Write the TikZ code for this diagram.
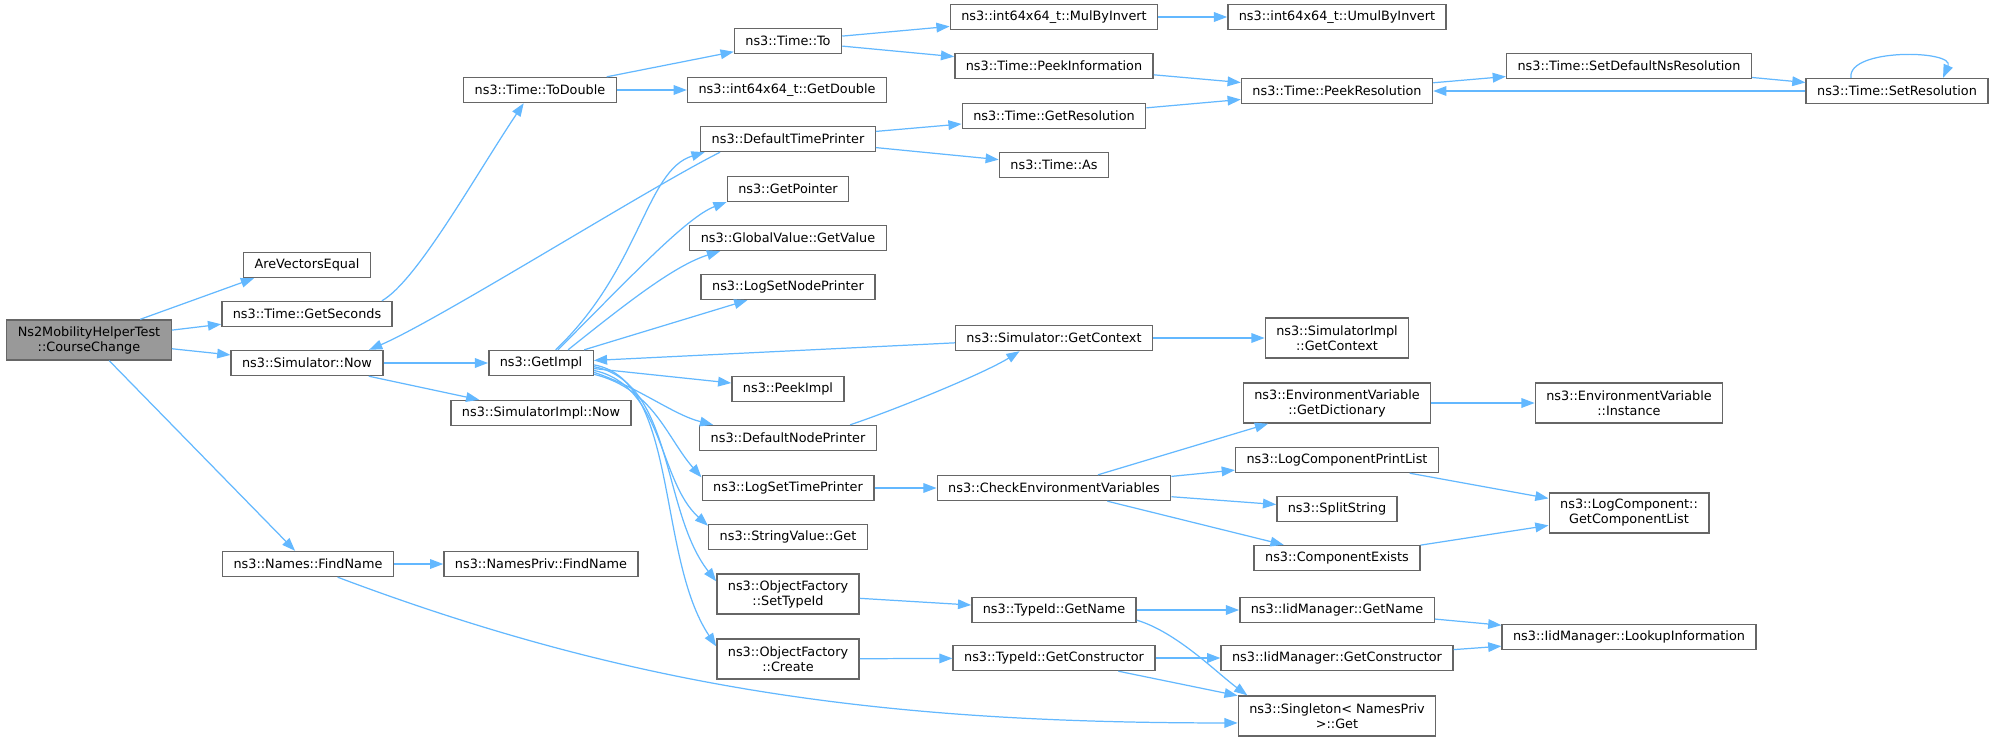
\documentclass[tikz,border=0pt]{standalone}
\usepackage{fontspec}
\setmainfont{DejaVu Sans}
\usetikzlibrary{arrows.meta}
\definecolor{edgeblue}{HTML}{63B8FF}
\definecolor{boxgray}{HTML}{666666}
\definecolor{rootgray}{HTML}{999999}

\begin{document}
\begin{tikzpicture}[x=0.02cm, y=-0.02cm,
    fn/.style={draw=boxgray, line width=0.8pt, rectangle, fill=white, align=center,
        inner xsep=6.25pt, minimum height=0.5cm, font=\fontsize{7.3}{8.5}\selectfont},
    fntwo/.style={fn, minimum height=0.8cm},
    edge/.style={draw=edgeblue, line width=0.7pt, -{Triangle[length=7.5pt, width=5.5pt]}}]
    \useasboundingbox (0,0) rectangle (1995,741);

    \node [fntwo, fill=rootgray] (CC) at (89,340) {Ns2MobilityHelperTest\\::CourseChange};

    \node [fn] (AVE) at (307,265) {AreVectorsEqual};
    \node [fn] (GS) at (307,314) {ns3::Time::GetSeconds};
    \node [fn] (SN) at (307,363) {ns3::Simulator::Now};
    \node [fn] (NFN) at (308,564) {ns3::Names::FindName};

    \node [fn] (TD) at (540,90) {ns3::Time::ToDouble};
    \node [fn] (GI) at (541,363) {ns3::GetImpl};
    \node [fn] (SIN) at (541,413) {ns3::SimulatorImpl::Now};
    \node [fn] (NPF) at (541,564) {ns3::NamesPriv::FindName};

    \node [fn] (TO) at (788,41) {ns3::Time::To};
    \node [fn] (GD) at (787,90) {ns3::int64x64\_t::GetDouble};
    \node [fn] (DTP) at (788,139) {ns3::DefaultTimePrinter};
    \node [fn] (GP) at (788,189) {ns3::GetPointer};
    \node [fn] (GV) at (788,238) {ns3::GlobalValue::GetValue};
    \node [fn] (LNP) at (788,287) {ns3::LogSetNodePrinter};
    \node [fn] (PI) at (788,389) {ns3::PeekImpl};
    \node [fn] (DNP) at (788,438) {ns3::DefaultNodePrinter};
    \node [fn] (LTP) at (788,488) {ns3::LogSetTimePrinter};
    \node [fn] (SVG) at (788,537) {ns3::StringValue::Get};
    \node [fntwo] (OST) at (788,594) {ns3::ObjectFactory\\::SetTypeId};
    \node [fntwo] (OC) at (788,659) {ns3::ObjectFactory\\::Create};

    \node [fn] (MBI) at (1054,17) {ns3::int64x64\_t::MulByInvert};
    \node [fn] (PIN) at (1054,66) {ns3::Time::PeekInformation};
    \node [fn] (GR) at (1054,116) {ns3::Time::GetResolution};
    \node [fn] (AS) at (1054,165) {ns3::Time::As};
    \node [fn] (SGC) at (1054,338) {ns3::Simulator::GetContext};
    \node [fn] (CEV) at (1054,488) {ns3::CheckEnvironmentVariables};
    \node [fn] (TGN) at (1054,610) {ns3::TypeId::GetName};
    \node [fn] (TGC) at (1054,658) {ns3::TypeId::GetConstructor};

    \node [fn] (UBI) at (1337,17) {ns3::int64x64\_t::UmulByInvert};
    \node [fn] (PR) at (1337,91) {ns3::Time::PeekResolution};
    \node [fntwo] (SIGC) at (1337,338) {ns3::SimulatorImpl\\::GetContext};
    \node [fntwo] (EGD) at (1337,403) {ns3::EnvironmentVariable\\::GetDictionary};
    \node [fn] (LCP) at (1337,460) {ns3::LogComponentPrintList};
    \node [fn] (SS) at (1337,509) {ns3::SplitString};
    \node [fn] (CE) at (1337,558) {ns3::ComponentExists};
    \node [fn] (IGN) at (1337,610) {ns3::IidManager::GetName};
    \node [fn] (IGC) at (1337,658) {ns3::IidManager::GetConstructor};
    \node [fntwo] (SG) at (1337,716) {ns3::Singleton< NamesPriv\\ >::Get};

    \node [fn] (SDN) at (1629,66) {ns3::Time::SetDefaultNsResolution};
    \node [fntwo] (EVI) at (1629,403) {ns3::EnvironmentVariable\\::Instance};
    \node [fntwo] (GCL) at (1629,513) {ns3::LogComponent::\\GetComponentList};
    \node [fn] (LI) at (1629,637) {ns3::IidManager::LookupInformation};

    \node [fn] (SR) at (1897,91) {ns3::Time::SetResolution};

    \draw [edge] (CC.22) -- (AVE.-166);
    \draw [edge] (CC) -- (GS);
    \draw [edge] (CC) -- (SN);
    \draw [edge] (CC) -- (NFN);
    \draw [edge] (GS.10) .. controls +(35,-20) and +(-50,75) .. (TD.-141);
    \draw [edge] (TD) -- (TO);
    \draw [edge] (TD) -- (GD);
    \draw [edge] (TO) -- (MBI);
    \draw [edge] (TO) -- (PIN);
    \draw [edge] (MBI) -- (UBI);
    \draw [edge] (PIN) -- (PR);
    \draw [edge] (GR) -- (PR);
    \draw [edge] (PR) -- (SDN);
    \draw [edge] (SDN) -- (SR);
    \draw [edge] (SR) -- (PR);
    \draw [edge] (SR.164) .. controls +(-4,-30) and +(12,-28) .. (SR.16); % recursion
    \draw [edge] (DTP) -- (GR);
    \draw [edge] (DTP) -- (AS);
    \draw [edge] (DTP.-169) .. controls +(-70,35) and +(70,-30) .. (SN.12);
    \draw [edge] (SN) -- (GI);
    \draw [edge] (SN) -- (SIN);

    \draw [edge] (GI.42) .. controls +(85,-81) and +(-59,18) .. (DTP.-171);
    \draw [edge] (GI.38) .. controls +(70,-70) and +(-40,15) .. (GP.-168);
    \draw [edge] (GI.26) .. controls +(60,-48) and +(-45,14) .. (GV.-169);
    \draw [edge] (GI.17) -- (LNP.-162);
    \draw [edge] (GI) -- (PI);
    \draw [edge] (GI.-10) .. controls +(45,15) and +(-40,-10) .. (DNP.170);
    \draw [edge] (GI.-12) .. controls +(60,15) and +(-35,-40) .. (LTP.173);
    \draw [edge] (GI.-8) .. controls +(70,15) and +(-50,-45) .. (SVG.172);
    \draw [edge] (GI.-4) .. controls +(80,15) and +(-55,-70) .. (OST.170);
    \draw [edge] (GI.-2) .. controls +(85,15) and +(-60,-90) .. (OC.170);
    \draw [edge] (SGC) -- (GI);
    \draw [edge] (DNP.12) .. controls +(45,-15) and +(-35,22) .. (SGC.-159);
    \draw [edge] (SGC) -- (SIGC);

    \draw [edge] (LTP) -- (CEV);
    \draw [edge] (CEV) -- (EGD);
    \draw [edge] (CEV) -- (LCP);
    \draw [edge] (CEV) -- (SS);
    \draw [edge] (CEV) -- (CE);
    \draw [edge] (EGD) -- (EVI);
    \draw [edge] (LCP) -- (GCL);
    \draw [edge] (CE) -- (GCL);

    \draw [edge] (OST) -- (TGN);
    \draw [edge] (TGN) -- (IGN);
    \draw [edge] (TGN.-7) .. controls +(40,12) and +(-30,-22) .. (SG.167);
    \draw [edge] (OC) -- (TGC);
    \draw [edge] (TGC) -- (IGC);
    \draw [edge] (TGC) -- (SG);
    \draw [edge] (IGN) -- (LI);
    \draw [edge] (IGC) -- (LI);

    \draw [edge] (NFN) -- (NPF);
    \draw [edge] (NFN.-24) .. controls +(300,113) and +(-350,0) .. (SG.-176);
\end{tikzpicture}
\end{document}
